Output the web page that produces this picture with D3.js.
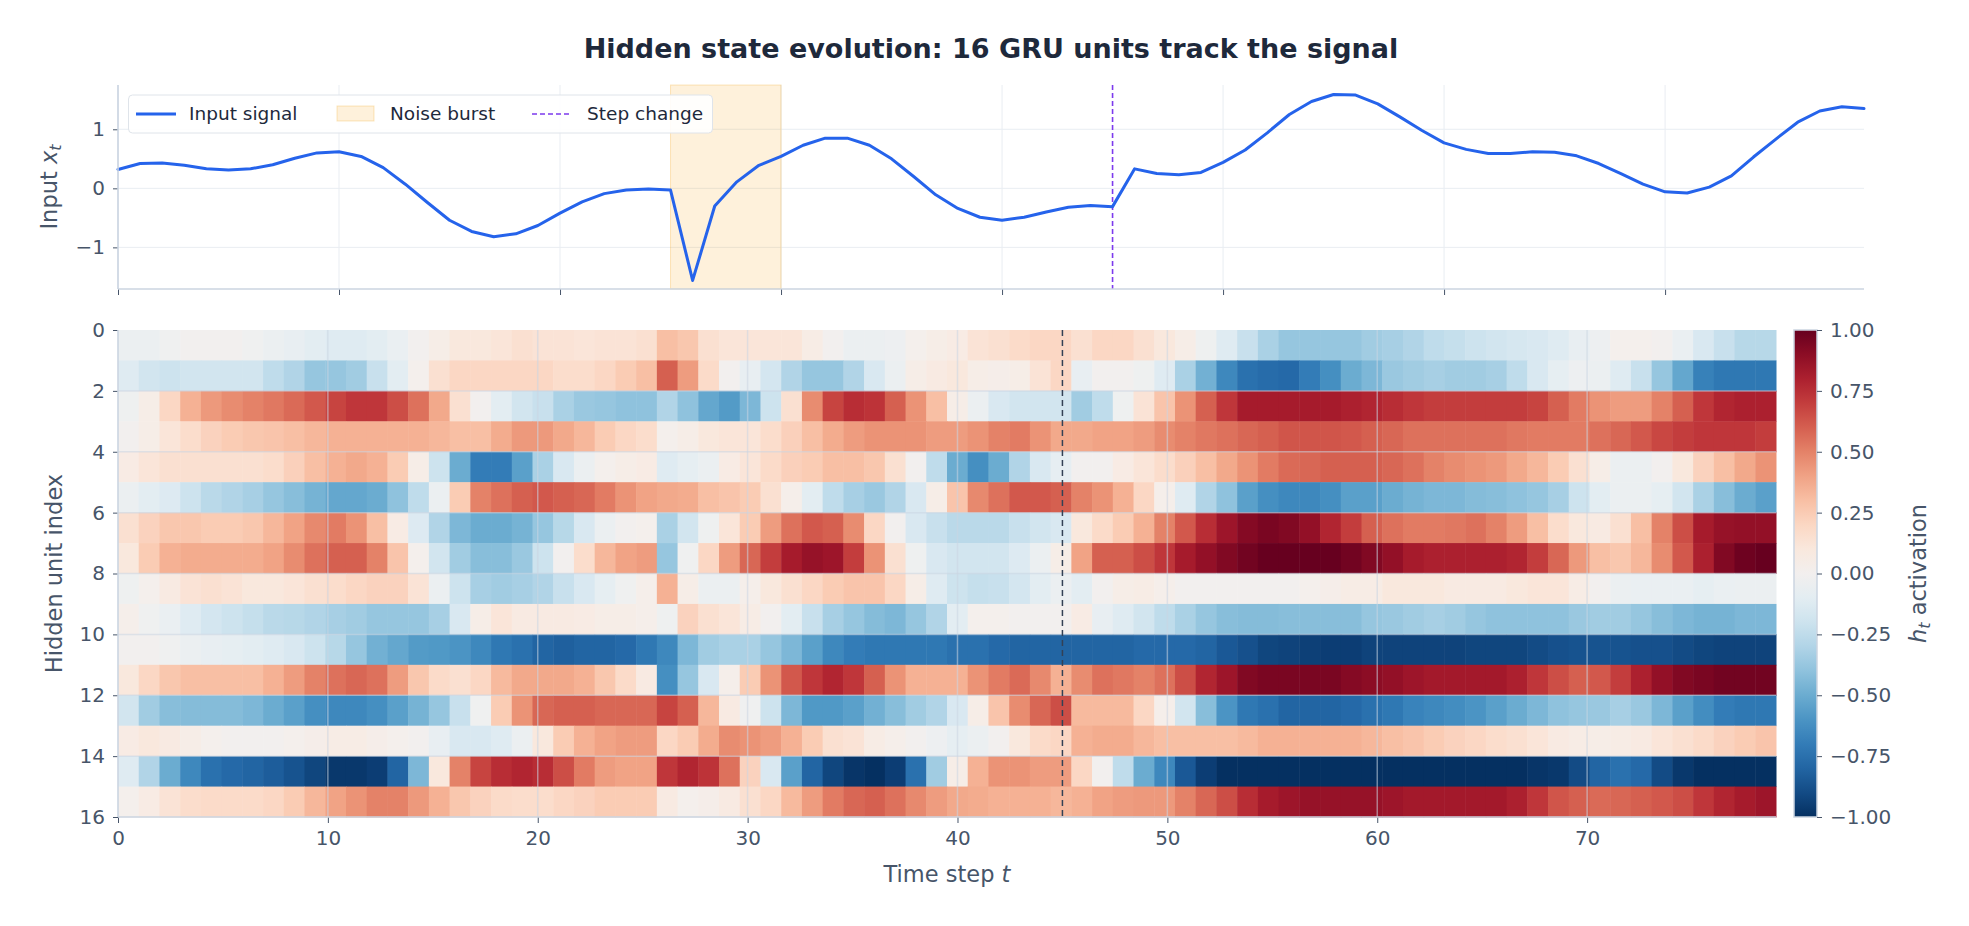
<!DOCTYPE html>
<html>
<head>
<meta charset="utf-8">
<script src="https://cdn.jsdelivr.net/npm/d3@7"></script>
<style>
  html, body { margin: 0; padding: 0; background: #fff; }
  svg { display: block; font-family: "DejaVu Sans", sans-serif; }
</style>
</head>
<body>
<svg id="chart" width="1969" height="926"></svg>
<script>
// ---- data ----
const timeSteps = d3.range(80);

const inputSignal = [
  0.32, 0.42, 0.43, 0.39, 0.33, 0.31, 0.33, 0.40, 0.51, 0.60,
  0.62, 0.54, 0.35, 0.07, -0.24, -0.54, -0.73, -0.82, -0.77, -0.63,
  -0.42, -0.23, -0.09, -0.03, -0.01, -0.03, -1.56, -0.30, 0.11, 0.39,
  0.54, 0.73, 0.85, 0.85, 0.73, 0.50, 0.20, -0.11, -0.34, -0.49,
  -0.54, -0.49, -0.40, -0.32, -0.29, -0.31, 0.33, 0.25, 0.23, 0.27,
  0.44, 0.65, 0.94, 1.25, 1.47, 1.59, 1.58, 1.43, 1.21, 0.98,
  0.77, 0.66, 0.59, 0.59, 0.62, 0.61, 0.55, 0.42, 0.25, 0.07,
  -0.06, -0.08, 0.02, 0.21, 0.53, 0.83, 1.12, 1.31, 1.38, 1.35,
];

const noiseBurst = [25, 30];
const stepChangeAt = 45;

const timeTicks = [0, 10, 20, 30, 40, 50, 60, 70];
const signalTicks = [-1, 0, 1];
const unitTicks = [0, 2, 4, 6, 8, 10, 12, 14, 16];
const activationTicks = [-1, -0.75, -0.5, -0.25, 0, 0.25, 0.5, 0.75, 1];

// hidden state h_t, one row per GRU unit (0..15), one value per time step
const hiddenState = [
  [-0.05, -0.05, -0.02, 0, 0, 0, -0.02, -0.05, -0.07, -0.1, -0.12, -0.12, -0.1, -0.06, 0, 0.05, 0.1, 0.1, 0.12, 0.15,
   0.13, 0.13, 0.12, 0.13, 0.13, 0.15, 0.3, 0.27, 0.15, 0.12, 0.12, 0.12, 0.12, 0.06, 0, -0.05, -0.05, -0.04, 0.02, 0.05,
   0.07, 0.13, 0.15, 0.18, 0.2, 0.2, 0.15, 0.2, 0.2, 0.15, 0.1, 0.05, -0.03, -0.12, -0.22, -0.32, -0.38, -0.38, -0.38, -0.38,
   -0.35, -0.33, -0.3, -0.25, -0.23, -0.2, -0.18, -0.16, -0.15, -0.12, -0.07, -0.04, 0.02, 0.02, 0, -0.06, -0.15, -0.22, -0.28, -0.28],
  [-0.12, -0.18, -0.2, -0.18, -0.18, -0.18, -0.18, -0.25, -0.3, -0.38, -0.38, -0.35, -0.22, -0.1, 0.02, 0.15, 0.2, 0.2, 0.2, 0.2,
   0.2, 0.17, 0.17, 0.2, 0.25, 0.3, 0.6, 0.42, 0.18, 0, -0.07, -0.17, -0.3, -0.38, -0.38, -0.3, -0.15, -0.05, 0.05, 0.08,
   0.1, 0.05, 0.04, 0.05, 0.13, 0.2, -0.07, 0, 0, -0.03, -0.12, -0.32, -0.48, -0.65, -0.75, -0.77, -0.78, -0.7, -0.62, -0.5,
   -0.45, -0.37, -0.35, -0.33, -0.35, -0.35, -0.33, -0.25, -0.15, -0.08, -0.04, -0.05, -0.12, -0.22, -0.38, -0.52, -0.68, -0.72, -0.72, -0.72],
  [-0.03, 0.05, 0.2, 0.35, 0.43, 0.47, 0.5, 0.53, 0.57, 0.62, 0.68, 0.72, 0.72, 0.65, 0.55, 0.38, 0.15, 0, -0.1, -0.18,
   -0.22, -0.32, -0.37, -0.38, -0.4, -0.4, -0.3, -0.4, -0.52, -0.57, -0.45, -0.2, 0.15, 0.47, 0.68, 0.75, 0.73, 0.6, 0.45, 0.3,
   0.05, -0.05, -0.15, -0.18, -0.18, -0.18, -0.35, -0.25, -0.03, 0.13, 0.28, 0.45, 0.6, 0.72, 0.82, 0.82, 0.82, 0.82, 0.82, 0.8,
   0.78, 0.75, 0.72, 0.7, 0.7, 0.7, 0.7, 0.7, 0.68, 0.6, 0.52, 0.45, 0.42, 0.42, 0.5, 0.6, 0.72, 0.78, 0.8, 0.8],
  [0, 0.05, 0.12, 0.17, 0.22, 0.25, 0.27, 0.28, 0.3, 0.33, 0.35, 0.35, 0.35, 0.35, 0.35, 0.33, 0.3, 0.3, 0.37, 0.43,
   0.43, 0.38, 0.33, 0.25, 0.2, 0.17, 0.02, 0.05, 0.1, 0.12, 0.12, 0.17, 0.23, 0.3, 0.37, 0.42, 0.45, 0.45, 0.45, 0.42,
   0.42, 0.45, 0.5, 0.52, 0.45, 0.38, 0.38, 0.4, 0.4, 0.42, 0.47, 0.5, 0.53, 0.55, 0.58, 0.6, 0.63, 0.63, 0.63, 0.62,
   0.6, 0.58, 0.55, 0.55, 0.55, 0.55, 0.55, 0.53, 0.52, 0.52, 0.52, 0.55, 0.58, 0.62, 0.67, 0.7, 0.72, 0.72, 0.72, 0.7],
  [0.07, 0.12, 0.15, 0.15, 0.15, 0.15, 0.15, 0.17, 0.23, 0.3, 0.35, 0.38, 0.35, 0.25, 0.05, -0.2, -0.5, -0.7, -0.7, -0.55,
   -0.32, -0.15, -0.05, 0.02, 0.05, 0.07, -0.12, -0.08, -0.05, 0.07, 0.12, 0.18, 0.23, 0.25, 0.3, 0.3, 0.27, 0.15, 0, -0.25,
   -0.5, -0.62, -0.5, -0.3, -0.15, -0.08, 0, 0, 0.07, 0.12, 0.17, 0.23, 0.3, 0.38, 0.45, 0.52, 0.57, 0.58, 0.6, 0.6,
   0.6, 0.58, 0.55, 0.5, 0.47, 0.45, 0.43, 0.38, 0.33, 0.25, 0.15, 0.05, -0.05, -0.05, 0, 0.1, 0.22, 0.3, 0.38, 0.45],
  [-0.05, -0.1, -0.13, -0.2, -0.27, -0.3, -0.33, -0.38, -0.42, -0.47, -0.52, -0.52, -0.5, -0.4, -0.25, -0.05, 0.25, 0.5, 0.55, 0.6,
   0.62, 0.6, 0.58, 0.52, 0.45, 0.4, 0.38, 0.37, 0.3, 0.28, 0.25, 0.15, 0.03, -0.1, -0.25, -0.33, -0.37, -0.3, -0.15, 0.05,
   0.28, 0.48, 0.55, 0.62, 0.62, 0.6, 0.5, 0.45, 0.35, 0.2, 0.03, -0.12, -0.3, -0.4, -0.55, -0.62, -0.65, -0.65, -0.62, -0.55,
   -0.55, -0.5, -0.47, -0.45, -0.45, -0.43, -0.42, -0.4, -0.38, -0.33, -0.2, -0.1, -0.05, -0.05, -0.08, -0.18, -0.32, -0.42, -0.5, -0.55],
  [0.15, 0.22, 0.27, 0.27, 0.25, 0.25, 0.27, 0.33, 0.4, 0.48, 0.52, 0.45, 0.3, 0.07, -0.13, -0.3, -0.45, -0.5, -0.5, -0.47,
   -0.38, -0.28, -0.15, -0.05, 0, 0.02, -0.32, -0.18, -0.03, 0.12, 0.25, 0.42, 0.55, 0.62, 0.6, 0.47, 0.2, 0, -0.15, -0.22,
   -0.27, -0.27, -0.27, -0.22, -0.18, -0.15, 0.1, 0.18, 0.25, 0.35, 0.5, 0.62, 0.75, 0.85, 0.92, 0.95, 0.93, 0.88, 0.78, 0.7,
   0.6, 0.55, 0.52, 0.52, 0.53, 0.55, 0.5, 0.42, 0.3, 0.17, 0.1, 0.08, 0.15, 0.3, 0.5, 0.65, 0.82, 0.87, 0.88, 0.88],
  [0.1, 0.25, 0.35, 0.37, 0.37, 0.37, 0.37, 0.4, 0.47, 0.55, 0.6, 0.6, 0.5, 0.28, 0.02, -0.18, -0.35, -0.42, -0.42, -0.37,
   -0.2, 0, 0.17, 0.33, 0.4, 0.42, -0.38, -0.02, 0.2, 0.42, 0.58, 0.7, 0.82, 0.87, 0.85, 0.7, 0.45, 0.15, -0.03, -0.15,
   -0.18, -0.18, -0.18, -0.13, -0.05, 0.05, 0.4, 0.6, 0.6, 0.65, 0.72, 0.82, 0.88, 0.93, 0.97, 1, 1, 1, 1, 0.97,
   0.93, 0.88, 0.82, 0.8, 0.8, 0.8, 0.8, 0.78, 0.7, 0.58, 0.43, 0.3, 0.27, 0.33, 0.47, 0.62, 0.8, 0.93, 0.98, 1],
  [-0.03, 0.02, 0.08, 0.13, 0.15, 0.13, 0.1, 0.1, 0.12, 0.15, 0.17, 0.2, 0.22, 0.22, 0.13, -0.05, -0.2, -0.33, -0.35, -0.33,
   -0.3, -0.22, -0.15, -0.08, -0.02, 0.03, 0.35, 0.05, -0.05, -0.05, 0.03, 0.1, 0.15, 0.2, 0.25, 0.28, 0.28, 0.2, 0.05, -0.12,
   -0.2, -0.23, -0.22, -0.17, -0.1, -0.05, -0.1, 0, 0.05, 0.06, 0.03, 0, 0, 0, 0, 0, 0, 0.02, 0.04, 0.06,
   0.06, 0.1, 0.1, 0.1, 0.08, 0.08, 0.08, 0.1, 0.12, 0.12, 0.06, 0, -0.05, -0.06, -0.06, -0.06, -0.08, -0.06, -0.05, -0.05],
  [0.03, -0.02, -0.06, -0.12, -0.17, -0.2, -0.23, -0.27, -0.28, -0.3, -0.33, -0.35, -0.38, -0.38, -0.38, -0.33, -0.15, 0.05, 0.12, 0.08,
   0.08, 0.08, 0.07, 0.05, 0.05, 0.03, -0.03, 0.22, 0.15, 0.12, 0.06, 0, -0.1, -0.22, -0.33, -0.38, -0.43, -0.45, -0.38, -0.3,
   -0.1, 0.02, 0.02, 0, 0, 0, 0.07, -0.07, -0.12, -0.18, -0.25, -0.32, -0.38, -0.42, -0.43, -0.43, -0.42, -0.42, -0.42, -0.42,
   -0.38, -0.37, -0.35, -0.33, -0.35, -0.38, -0.4, -0.4, -0.4, -0.4, -0.37, -0.35, -0.35, -0.38, -0.42, -0.45, -0.47, -0.47, -0.45, -0.45],
  [0, 0, -0.02, -0.05, -0.07, -0.08, -0.1, -0.12, -0.15, -0.2, -0.28, -0.38, -0.48, -0.52, -0.57, -0.58, -0.6, -0.65, -0.72, -0.75,
   -0.8, -0.82, -0.8, -0.8, -0.78, -0.72, -0.65, -0.45, -0.35, -0.32, -0.32, -0.38, -0.45, -0.55, -0.65, -0.7, -0.72, -0.72, -0.72, -0.72,
   -0.75, -0.75, -0.78, -0.8, -0.8, -0.8, -0.8, -0.8, -0.8, -0.78, -0.78, -0.78, -0.8, -0.85, -0.88, -0.92, -0.93, -0.94, -0.95, -0.95,
   -0.93, -0.93, -0.93, -0.93, -0.93, -0.92, -0.92, -0.92, -0.9, -0.88, -0.87, -0.87, -0.87, -0.88, -0.88, -0.9, -0.92, -0.93, -0.93, -0.93],
  [0.1, 0.2, 0.27, 0.3, 0.3, 0.3, 0.3, 0.35, 0.42, 0.5, 0.55, 0.58, 0.55, 0.42, 0.27, 0.18, 0.15, 0.2, 0.32, 0.38,
   0.38, 0.38, 0.35, 0.27, 0.18, 0.08, -0.62, -0.38, -0.15, 0.03, 0.25, 0.45, 0.62, 0.72, 0.78, 0.72, 0.6, 0.45, 0.35, 0.35,
   0.35, 0.45, 0.52, 0.57, 0.48, 0.35, 0.47, 0.55, 0.53, 0.5, 0.55, 0.65, 0.78, 0.85, 0.93, 0.95, 0.95, 0.95, 0.95, 0.92,
   0.9, 0.88, 0.85, 0.83, 0.83, 0.83, 0.83, 0.8, 0.72, 0.65, 0.6, 0.62, 0.7, 0.8, 0.88, 0.93, 0.95, 0.97, 0.97, 0.97],
  [-0.18, -0.35, -0.42, -0.43, -0.43, -0.43, -0.45, -0.5, -0.55, -0.62, -0.65, -0.65, -0.62, -0.55, -0.47, -0.38, -0.22, -0.02, 0.25, 0.45,
   0.58, 0.6, 0.6, 0.58, 0.58, 0.58, 0.68, 0.6, 0.33, 0.08, -0.02, -0.2, -0.45, -0.58, -0.58, -0.55, -0.48, -0.42, -0.35, -0.3,
   -0.15, 0.05, 0.28, 0.47, 0.58, 0.65, 0.32, 0.32, 0.32, 0.2, 0.03, -0.18, -0.42, -0.6, -0.72, -0.75, -0.8, -0.8, -0.8, -0.78,
   -0.75, -0.72, -0.67, -0.65, -0.63, -0.6, -0.55, -0.5, -0.45, -0.4, -0.38, -0.37, -0.33, -0.37, -0.45, -0.55, -0.63, -0.7, -0.72, -0.72],
  [0.07, 0.1, 0.08, 0.05, 0.02, 0, 0, 0, 0.02, 0.04, 0.06, 0.06, 0.04, 0.02, 0, -0.07, -0.15, -0.15, -0.12, -0.05,
   0.1, 0.25, 0.35, 0.4, 0.42, 0.42, 0.2, 0.25, 0.37, 0.47, 0.45, 0.42, 0.35, 0.25, 0.15, 0.13, 0.06, 0.03, 0, -0.04,
   -0.08, -0.05, 0, 0.1, 0.18, 0.2, 0.35, 0.37, 0.37, 0.33, 0.3, 0.3, 0.3, 0.3, 0.32, 0.35, 0.35, 0.35, 0.35, 0.35,
   0.33, 0.3, 0.28, 0.25, 0.22, 0.2, 0.17, 0.15, 0.12, 0.08, 0.06, 0.05, 0.06, 0.08, 0.12, 0.15, 0.18, 0.22, 0.25, 0.28],
  [-0.12, -0.3, -0.5, -0.65, -0.75, -0.78, -0.8, -0.83, -0.87, -0.92, -0.97, -0.97, -0.95, -0.8, -0.45, 0.1, 0.5, 0.68, 0.75, 0.78,
   0.75, 0.65, 0.52, 0.42, 0.4, 0.4, 0.72, 0.78, 0.73, 0.55, 0.22, -0.15, -0.55, -0.8, -0.92, -0.98, -1, -0.95, -0.75, -0.35,
   0.05, 0.35, 0.45, 0.45, 0.42, 0.42, 0.2, 0, -0.25, -0.5, -0.65, -0.85, -0.95, -1, -1, -1, -1, -1, -1, -1,
   -1, -1, -1, -1, -1, -1, -1, -1, -0.98, -0.97, -0.9, -0.8, -0.75, -0.78, -0.9, -0.97, -1, -1, -1, -1],
  [0.02, 0.07, 0.13, 0.17, 0.18, 0.18, 0.18, 0.2, 0.25, 0.33, 0.4, 0.45, 0.5, 0.5, 0.43, 0.35, 0.27, 0.22, 0.18, 0.17,
   0.17, 0.2, 0.22, 0.25, 0.25, 0.25, 0.08, 0.02, 0.04, 0.08, 0.15, 0.2, 0.32, 0.42, 0.52, 0.58, 0.6, 0.55, 0.48, 0.42,
   0.38, 0.37, 0.35, 0.35, 0.35, 0.33, 0.35, 0.4, 0.42, 0.43, 0.43, 0.5, 0.58, 0.65, 0.75, 0.82, 0.85, 0.87, 0.87, 0.87,
   0.87, 0.85, 0.83, 0.83, 0.83, 0.83, 0.83, 0.8, 0.72, 0.63, 0.6, 0.57, 0.58, 0.6, 0.62, 0.65, 0.72, 0.78, 0.82, 0.85],
];

// ---- layout ----
const svg = d3.select('#chart');

const frame = {
  signal: { left: 118, right: 1864, top: 85, bottom: 289 },
  heat: { left: 118, right: 1776, top: 330, bottom: 817 },
  bar: { left: 1794, right: 1817 },
};

const ink = '#475569';
const spine = '#cbd5e1';
const burstColor = '#f59e0b';

const xSig = d3.scaleLinear().domain([0, 79]).range([frame.signal.left, frame.signal.right]);
const ySig = d3.scaleLinear().domain([-1.705, 1.75]).range([frame.signal.bottom, frame.signal.top]);
const xHeat = d3.scaleLinear().domain([0, 79]).range([frame.heat.left, frame.heat.right]);
const colEdge = d3.scaleLinear().domain([0, timeSteps.length]).range([0, 79]);
const yHeat = d3.scaleLinear().domain([0, hiddenState.length]).range([frame.heat.top, frame.heat.bottom]);
const yBar = d3.scaleLinear().domain([-1, 1]).range([frame.heat.bottom, frame.heat.top]);
const color = d3.scaleSequential(d3.interpolateRdBu).domain([1, -1]);

function styleAxis(g) {
  g.select('.domain').remove();
  g.selectAll('.tick line').attr('stroke', ink).attr('stroke-width', 1);
  g.selectAll('.tick text')
    .attr('fill', ink)
    .attr('font-size', 20)
    .attr('font-family', '"DejaVu Sans", sans-serif');
}

// ---- title ----
svg.append('text')
  .attr('x', 991)
  .attr('y', 57.5)
  .attr('text-anchor', 'middle')
  .attr('font-size', 27)
  .attr('font-weight', 'bold')
  .attr('fill', '#1e293b')
  .text('Hidden state evolution: 16 GRU units track the signal');

// ---- upper panel: input signal ----
const signalPanel = svg.append('g');

signalPanel.append('g')
  .selectAll('line')
  .data(timeTicks)
  .join('line')
  .attr('x1', d => xSig(d))
  .attr('x2', d => xSig(d))
  .attr('y1', frame.signal.top)
  .attr('y2', frame.signal.bottom)
  .attr('stroke', '#e9edf2')
  .attr('stroke-width', 1);

signalPanel.append('g')
  .selectAll('line')
  .data(signalTicks)
  .join('line')
  .attr('x1', frame.signal.left)
  .attr('x2', frame.signal.right)
  .attr('y1', d => ySig(d))
  .attr('y2', d => ySig(d))
  .attr('stroke', '#e9edf2')
  .attr('stroke-width', 1);

signalPanel.append('rect')
  .attr('x', xSig(noiseBurst[0]))
  .attr('width', xSig(noiseBurst[1]) - xSig(noiseBurst[0]))
  .attr('y', frame.signal.top)
  .attr('height', frame.signal.bottom - frame.signal.top)
  .attr('fill', burstColor)
  .attr('fill-opacity', 0.15)
  .attr('stroke', burstColor)
  .attr('stroke-opacity', 0.25);

signalPanel.append('line')
  .attr('x1', xSig(stepChangeAt))
  .attr('x2', xSig(stepChangeAt))
  .attr('y1', frame.signal.top)
  .attr('y2', frame.signal.bottom)
  .attr('stroke', '#7c3aed')
  .attr('stroke-width', 1.6)
  .attr('stroke-dasharray', '5,3');

const line = d3.line()
  .x((d, i) => xSig(timeSteps[i]))
  .y(d => ySig(d));

signalPanel.append('path')
  .attr('d', line(inputSignal))
  .attr('fill', 'none')
  .attr('stroke', '#2563eb')
  .attr('stroke-width', 3)
  .attr('stroke-linejoin', 'round')
  .attr('stroke-linecap', 'round');

signalPanel.append('g')
  .attr('transform', `translate(0, ${frame.signal.bottom})`)
  .call(d3.axisBottom(xSig).tickValues(timeTicks).tickSize(6).tickFormat(''))
  .call(styleAxis);

signalPanel.append('g')
  .attr('transform', `translate(${frame.signal.left}, 0)`)
  .call(d3.axisLeft(ySig).tickValues(signalTicks).tickSize(5).tickPadding(8).tickFormat(d3.format('d')))
  .call(styleAxis);

signalPanel.append('line')
  .attr('x1', frame.signal.left).attr('x2', frame.signal.left)
  .attr('y1', frame.signal.top).attr('y2', frame.signal.bottom)
  .attr('stroke', spine).attr('stroke-width', 1.6);
signalPanel.append('line')
  .attr('x1', frame.signal.left).attr('x2', frame.signal.right)
  .attr('y1', frame.signal.bottom).attr('y2', frame.signal.bottom)
  .attr('stroke', spine).attr('stroke-width', 1.6);

const sigLabel = signalPanel.append('text')
  .attr('transform', `translate(57, ${(frame.signal.top + frame.signal.bottom) / 2}) rotate(-90)`)
  .attr('text-anchor', 'middle')
  .attr('font-size', 22.5)
  .attr('fill', ink);
sigLabel.append('tspan').text('Input ');
sigLabel.append('tspan').attr('font-style', 'italic').text('x');
sigLabel.append('tspan').attr('font-style', 'italic').attr('font-size', 16).attr('dy', 4).text('t');

// legend
const legend = signalPanel.append('g');
legend.append('rect')
  .attr('x', 128.5).attr('y', 95)
  .attr('width', 584).attr('height', 38)
  .attr('rx', 4)
  .attr('fill', '#fff').attr('fill-opacity', 0.9)
  .attr('stroke', '#dfe4ea');
legend.append('line')
  .attr('x1', 136).attr('x2', 176).attr('y1', 114).attr('y2', 114)
  .attr('stroke', '#2563eb').attr('stroke-width', 3);
legend.append('rect')
  .attr('x', 337).attr('y', 106).attr('width', 37).attr('height', 15)
  .attr('fill', burstColor).attr('fill-opacity', 0.15)
  .attr('stroke', burstColor).attr('stroke-opacity', 0.25);
legend.append('line')
  .attr('x1', 532).attr('x2', 571).attr('y1', 114).attr('y2', 114)
  .attr('stroke', '#7c3aed').attr('stroke-width', 1.6).attr('stroke-dasharray', '5,3');
legend.selectAll('text')
  .data([[189, 'Input signal'], [390, 'Noise burst'], [587, 'Step change']])
  .join('text')
  .attr('x', d => d[0])
  .attr('y', 114)
  .attr('dy', '0.35em')
  .attr('font-size', 18.5)
  .attr('fill', '#1e293b')
  .text(d => d[1]);

// ---- heatmap ----
const heat = svg.append('g');

const cells = hiddenState.flatMap((row, r) => row.map((v, c) => ({ r, c, v })));

heat.append('g')
  .selectAll('rect')
  .data(cells)
  .join('rect')
  .attr('x', d => xHeat(colEdge(d.c)))
  .attr('y', d => yHeat(d.r))
  .attr('width', d => xHeat(colEdge(d.c + 1)) - xHeat(colEdge(d.c)) + 0.5)
  .attr('height', d => yHeat(d.r + 1) - yHeat(d.r) + 0.5)
  .attr('fill', d => color(d.v));

heat.append('g')
  .selectAll('line')
  .data(timeTicks.filter(d => d > 0))
  .join('line')
  .attr('x1', d => xHeat(d)).attr('x2', d => xHeat(d))
  .attr('y1', frame.heat.top).attr('y2', frame.heat.bottom)
  .attr('stroke', '#cbd5e1').attr('stroke-opacity', 0.55).attr('stroke-width', 1.5);

heat.append('g')
  .selectAll('line')
  .data(unitTicks.filter(d => d > 0 && d < 16))
  .join('line')
  .attr('x1', frame.heat.left).attr('x2', frame.heat.right)
  .attr('y1', d => yHeat(d)).attr('y2', d => yHeat(d))
  .attr('stroke', '#cbd5e1').attr('stroke-opacity', 0.55).attr('stroke-width', 1.5);

heat.append('line')
  .attr('x1', xHeat(stepChangeAt)).attr('x2', xHeat(stepChangeAt))
  .attr('y1', frame.heat.top).attr('y2', frame.heat.bottom)
  .attr('stroke', '#334155').attr('stroke-width', 1.5).attr('stroke-dasharray', '6,4');

heat.append('g')
  .attr('transform', `translate(0, ${frame.heat.bottom})`)
  .call(d3.axisBottom(xHeat).tickValues(timeTicks).tickSize(6).tickPadding(8))
  .call(styleAxis);

heat.append('g')
  .attr('transform', `translate(${frame.heat.left}, 0)`)
  .call(d3.axisLeft(yHeat).tickValues(unitTicks).tickSize(5).tickPadding(8))
  .call(styleAxis);

heat.append('line')
  .attr('x1', frame.heat.left).attr('x2', frame.heat.left)
  .attr('y1', frame.heat.top).attr('y2', frame.heat.bottom)
  .attr('stroke', spine).attr('stroke-width', 1.6);
heat.append('line')
  .attr('x1', frame.heat.left).attr('x2', frame.heat.right)
  .attr('y1', frame.heat.bottom).attr('y2', frame.heat.bottom)
  .attr('stroke', spine).attr('stroke-width', 1.6);

const xLabel = heat.append('text')
  .attr('x', (frame.heat.left + frame.heat.right) / 2)
  .attr('y', 882)
  .attr('text-anchor', 'middle')
  .attr('font-size', 22.5)
  .attr('fill', ink);
xLabel.append('tspan').text('Time step ');
xLabel.append('tspan').attr('font-style', 'italic').text('t');

heat.append('text')
  .attr('transform', `translate(62, ${(frame.heat.top + frame.heat.bottom) / 2}) rotate(-90)`)
  .attr('text-anchor', 'middle')
  .attr('font-size', 22.5)
  .attr('fill', ink)
  .text('Hidden unit index');

// ---- colorbar ----
const defs = svg.append('defs');
const grad = defs.append('linearGradient')
  .attr('id', 'cbar')
  .attr('x1', 0).attr('x2', 0).attr('y1', 1).attr('y2', 0);
grad.selectAll('stop')
  .data(d3.range(0, 1.0001, 0.05))
  .join('stop')
  .attr('offset', d => d)
  .attr('stop-color', d => color(-1 + d * 2));

svg.append('rect')
  .attr('x', frame.bar.left)
  .attr('y', yBar(1))
  .attr('width', frame.bar.right - frame.bar.left)
  .attr('height', yBar(-1) - yBar(1))
  .attr('fill', 'url(#cbar)')
  .attr('stroke', spine)
  .attr('stroke-width', 1.5);

svg.append('g')
  .attr('transform', `translate(${frame.bar.right}, 0)`)
  .call(d3.axisRight(yBar).tickValues(activationTicks).tickSize(5).tickPadding(8).tickFormat(d3.format('.2f')))
  .call(styleAxis);

const barLabel = svg.append('text')
  .attr('transform', `translate(1926, ${(frame.heat.top + frame.heat.bottom) / 2}) rotate(-90)`)
  .attr('text-anchor', 'middle')
  .attr('font-size', 22.5)
  .attr('fill', ink);
barLabel.append('tspan').attr('font-style', 'italic').text('h');
barLabel.append('tspan').attr('font-style', 'italic').attr('font-size', 16).attr('dy', 4).text('t');
barLabel.append('tspan').attr('dy', -4).text(' activation');
</script>
</body>
</html>
